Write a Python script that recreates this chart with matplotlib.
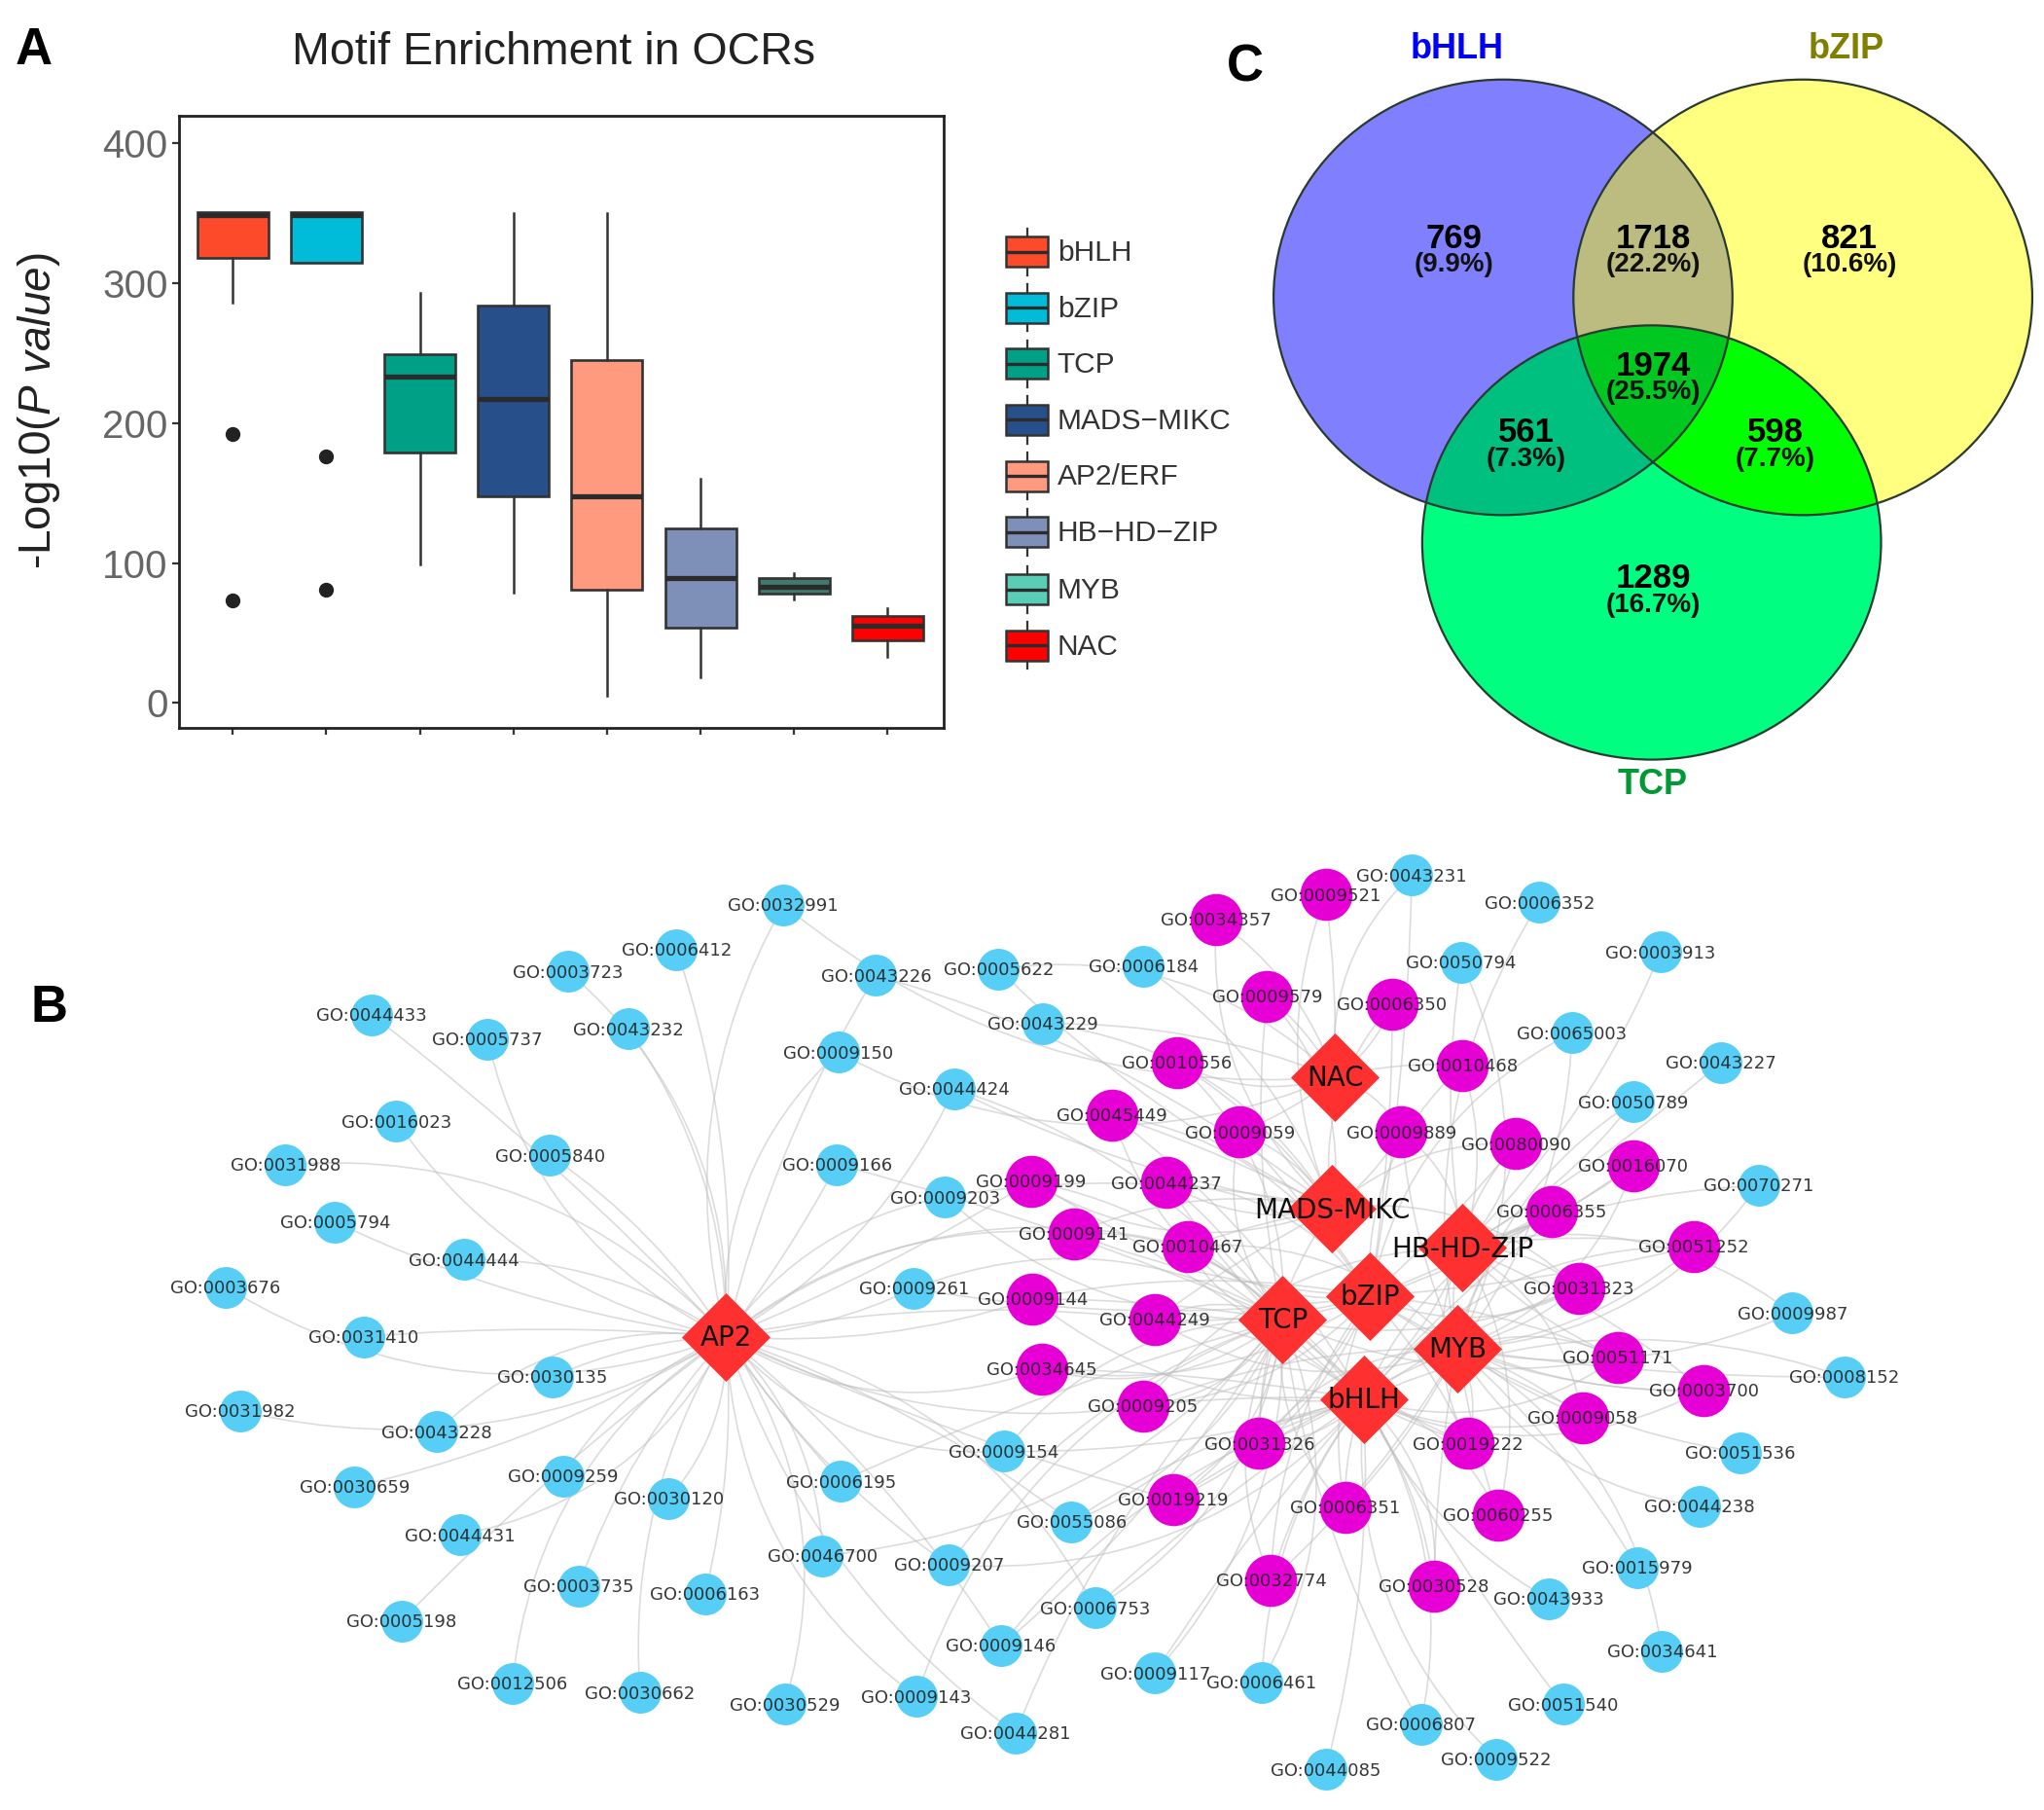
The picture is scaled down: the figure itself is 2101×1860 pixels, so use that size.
import numpy as np
import matplotlib
matplotlib.use("Agg")
import matplotlib.pyplot as plt
from matplotlib.patches import Rectangle, Polygon, Ellipse, PathPatch
from matplotlib.path import Path

plt.rcParams['font.family'] = ['Liberation Sans', 'DejaVu Sans']
plt.rcParams['mathtext.fontset'] = 'custom'
plt.rcParams['mathtext.it'] = 'Liberation Sans:italic'
plt.rcParams['mathtext.rm'] = 'Liberation Sans'

# ---------- Panel A data ----------
motifs = ['bHLH', 'bZIP', 'TCP', 'MADS\u2212MIKC', 'AP2/ERF', 'HB\u2212HD\u2212ZIP', 'MYB', 'NAC']
q1 = [318, 315, 179, 148, 81, 54, 78, 45]
med = [349, 349, 233, 217, 148, 89, 83, 55]
q3 = [351, 351, 249, 284, 245, 125, 89, 62]
whislo = [286, 315, 99, 79, 5, 18, 74, 33]
whishi = [351, 351, 293, 350, 350, 160, 93, 68]
fliers = [[192, 73], [176, 81], [], [], [], [], [], []]
key_colors = ['#FC4A2A', '#00BCD8', '#00A087', '#27508A', '#FF9A7E', '#7E8FB8', '#5ACDB6', '#FF0000']
box_colors = ['#FC4A2A', '#00BCD8', '#00A087', '#27508A', '#FF9A7E', '#7E8FB8', '#3F7A70', '#FF0000']

# ---------- Panel C data ----------
venn_sets = ['bHLH', 'bZIP', 'TCP']
venn_counts = ['769', '1718', '821', '1974', '561', '598', '1289']
venn_pcts = ['(9.9%)', '(22.2%)', '(10.6%)', '(25.5%)', '(7.3%)', '(7.7%)', '(16.7%)']

# ---------- Panel B data (node layout) ----------
blue_nodes = {
 '0032991':(601,694),'0006412':(519,728),'0003723':(436,745),'0043226':(672,748),'0005622':(766,743),
 '0006184':(877,741),'0043231':(1083,671),'0006352':(1181,692),'0003913':(1274,730),'0050794':(1121,738),
 '0065003':(1206,792),'0043227':(1320,815),'0050789':(1253,845),'0070271':(1349,909),'0009987':(1375,1007),
 '0008152':(1415,1056),'0051536':(1335,1114),'0044238':(1304,1155),'0015979':(1256,1202),'0043933':(1188,1226),
 '0034641':(1275,1266),'0051540':(1199,1307),'0006807':(1090,1322),'0009522':(1148,1349),'0044085':(1017,1357),
 '0006461':(968,1290),'0009117':(886,1283),'0044281':(779,1329),'0009143':(703,1301),'0009146':(768,1262),
 '0006753':(840,1233),'0055086':(822,1167),'0009154':(770,1113),'0009207':(728,1200),'0006195':(645,1136),
 '0046700':(631,1193),'0030529':(602,1307),'0030662':(491,1298),'0012506':(393,1291),'0006163':(541,1222),
 '0003735':(444,1216),'0030120':(513,1149),'0009259':(432,1132),'0044431':(353,1177),'0005198':(308,1243),
 '0030659':(272,1140),'0043228':(335,1098),'0030135':(424,1056),'0031982':(184,1082),'0031410':(279,1025),
 '0003676':(173,987),'0044444':(356,966),'0005794':(257,937),'0031988':(219,893),'0016023':(304,860),
 '0005840':(422,886),'0044433':(285,778),'0005737':(374,797),'0043232':(482,789),'0009150':(643,807),
 '0043229':(800,785),'0044424':(732,835),'0009166':(642,893),'0009203':(725,918),'0009261':(701,988)}
magenta_nodes = {
 '0034357':(933,705),'0009521':(1017,686),'0009579':(972,764),'0006350':(1068,770),'0010556':(903,815),
 '0010468':(1122,817),'0045449':(853,855),'0009059':(951,868),'0009889':(1075,868),'0080090':(1163,877),
 '0016070':(1253,894),'0009199':(791,906),'0044237':(895,907),'0006355':(1190,929),'0009141':(824,946),
 '0010467':(911,956),'0051252':(1299,956),'0031323':(1211,988),'0009144':(792,996),'0044249':(886,1012),
 '0051171':(1241,1041),'0034645':(799,1050),'0003700':(1307,1066),'0009205':(877,1078),'0009058':(1214,1087),
 '0031326':(966,1107),'0019222':(1126,1107),'0019219':(900,1150),'0006351':(1032,1156),'0060255':(1149,1162),
 '0032774':(975,1212),'0030528':(1100,1216)}
hubs = {'AP2':(557,1025),'NAC':(1024,826),'MADS-MIKC':(1022,927),'HB-HD-ZIP':(1122,957),
        'bZIP':(1051,994),'TCP':(984,1012),'MYB':(1118,1034),'bHLH':(1046,1073)}

ap2_targets = ['0032991','0006412','0003723','0043226','0043232','0005737','0044433','0016023','0005840',
 '0031988','0005794','0044444','0003676','0031410','0031982','0030135','0043228','0030659','0009259','0044431',
 '0005198','0030120','0003735','0012506','0006163','0030662','0030529','0006195','0046700','0009207','0009143',
 '0009146','0044281','0009150','0009166','0009203','0009261','0009154','0055086','0044424','0006753',
 '0009199','0009141','0009144','0034645','0044249','0009205','0010467','0019219']
right_blue_targets = {
 '0032991':['NAC'],'0043226':['MADS-MIKC'],'0005622':['NAC','MADS-MIKC'],'0006184':['MADS-MIKC'],
 '0043231':['NAC','bZIP'],'0006352':['MYB'],'0003913':['HB-HD-ZIP'],'0050794':['MYB','HB-HD-ZIP'],
 '0065003':['MYB','bZIP'],'0043227':['HB-HD-ZIP'],'0050789':['MYB','HB-HD-ZIP'],
 '0070271':['MYB','HB-HD-ZIP'],'0009987':['MYB','HB-HD-ZIP'],'0008152':['MYB','bHLH'],'0051536':['MYB'],
 '0044238':['MYB'],'0015979':['MYB'],'0043933':['bHLH'],'0034641':['MYB'],'0051540':['bHLH'],'0006807':['bHLH','TCP'],
 '0009522':['bHLH'],'0044085':['bHLH'],'0006461':['bHLH','TCP'],'0009117':['bHLH','TCP'],'0044281':['TCP'],
 '0009143':['TCP'],'0009146':['TCP','bHLH'],'0006753':['TCP','bHLH'],'0055086':['TCP','bHLH'],
 '0009154':['TCP','bHLH'],'0009207':['TCP','bHLH'],'0006195':['TCP'],'0046700':['TCP'],
 '0043229':['NAC','MADS-MIKC'],'0044424':['MADS-MIKC','TCP'],'0009150':['NAC'],'0009166':['TCP'],
 '0009203':['TCP','MADS-MIKC'],'0009261':['TCP','bZIP']}
magenta_targets = {
 '0034357':['NAC','MADS-MIKC'],'0009521':['NAC','MADS-MIKC'],'0009579':['NAC','MADS-MIKC','TCP'],
 '0006350':['NAC','MADS-MIKC','bZIP'],'0010556':['NAC','MADS-MIKC','TCP'],'0010468':['NAC','HB-HD-ZIP','bZIP'],
 '0045449':['MADS-MIKC','TCP','bHLH','bZIP'],'0009059':['NAC','MADS-MIKC','TCP','bZIP'],
 '0009889':['NAC','MADS-MIKC','HB-HD-ZIP','MYB'],'0080090':['HB-HD-ZIP','MYB','bZIP','MADS-MIKC'],
 '0016070':['HB-HD-ZIP','MYB','bHLH'],'0009199':['TCP','MADS-MIKC','bHLH'],'0044237':['MADS-MIKC','TCP','bZIP','bHLH'],
 '0006355':['HB-HD-ZIP','MYB','bZIP','bHLH','TCP'],'0009141':['TCP','bZIP','MADS-MIKC'],
 '0010467':['TCP','MADS-MIKC','bZIP','bHLH','MYB'],'0051252':['HB-HD-ZIP','MYB','bHLH','bZIP'],
 '0031323':['HB-HD-ZIP','MYB','bZIP','bHLH','TCP','MADS-MIKC'],'0009144':['TCP','bHLH','bZIP'],
 '0044249':['TCP','bZIP','bHLH','MYB','MADS-MIKC'],'0051171':['MYB','HB-HD-ZIP','bHLH','bZIP','TCP'],
 '0034645':['TCP','bHLH','bZIP'],'0003700':['MYB','bHLH','HB-HD-ZIP','bZIP'],
 '0009205':['TCP','bHLH','bZIP','MYB','HB-HD-ZIP'],'0009058':['MYB','bHLH','HB-HD-ZIP','bZIP'],
 '0031326':['bHLH','TCP','MYB','bZIP','MADS-MIKC','HB-HD-ZIP'],'0019222':['bHLH','MYB','TCP','HB-HD-ZIP','bZIP'],
 '0019219':['bHLH','TCP','MYB','bZIP'],'0006351':['bHLH','TCP','MYB','bZIP'],'0060255':['bHLH','MYB','HB-HD-ZIP'],
 '0032774':['bHLH','TCP','MYB','bZIP'],'0030528':['bHLH','MYB','TCP']}

# ---------- Figure ----------
W, H = 1568.0, 1388.0
fig = plt.figure(figsize=(21.01, 18.60), dpi=100)
bg = fig.add_axes([0, 0, 1, 1], zorder=2)
bg.set_xlim(0, W); bg.set_ylim(H, 0); bg.axis('off')

# ---------- Panel A ----------
ax = fig.add_axes([137/W, 1-558/H, (724-137)/W, (558-89)/H], zorder=1)
stats = [dict(med=m, q1=a, q3=b, whislo=l, whishi=h, fliers=f, label=n)
         for n, a, m, b, l, h, f in zip(motifs, q1, med, q3, whislo, whishi, fliers)]
bp = ax.bxp(stats, positions=np.arange(1, 9), widths=0.76, patch_artist=True, showcaps=False,
            boxprops=dict(edgecolor='#333333', linewidth=1.9),
            medianprops=dict(color='#2b2b2b', linewidth=3.8, solid_capstyle='butt'),
            whiskerprops=dict(color='#333333', linewidth=1.8),
            flierprops=dict(marker='o', markerfacecolor='#222222', markeredgecolor='#222222', markersize=10))
for patch, c in zip(bp['boxes'], box_colors):
    patch.set_facecolor(c)
ax.set_xlim(0.42, 8.6)
ax.set_ylim(-17.7, 419.6)
ax.set_xticks(np.arange(1, 9)); ax.set_xticklabels([''] * 8)
ax.set_yticks([0, 100, 200, 300, 400])
ax.tick_params(axis='y', labelsize=29, labelcolor='#666666', length=5, width=1.6, color='#333333', pad=3)
ax.tick_params(axis='x', length=5, width=1.6, color='#333333')
for s in ax.spines.values():
    s.set_linewidth(2.0); s.set_color('#222222')

bg.text(425, 40, 'Motif Enrichment in OCRs', ha='center', va='center', fontsize=33.5, color='#222222')
bg.text(30, 315, r'-Log10($\mathit{P\ value}$)', rotation=90, ha='center', va='center', fontsize=33, color='#222222')

# legend
leg_y = [193, 236, 279, 322, 365, 408, 452, 495]
for y, name, c in zip(leg_y, motifs, key_colors):
    bg.plot([788, 788], [y-18, y+18], color='#333333', lw=1.6, zorder=3)
    bg.add_patch(Rectangle((772, y-11.5), 32, 23, facecolor=c, edgecolor='#333333', lw=1.8, zorder=4))
    bg.plot([772, 804], [y, y], color='#2b2b2b', lw=2.4, zorder=5, solid_capstyle='butt')
    bg.text(811, y+1, name, ha='left', va='center', fontsize=21.5, color='#333333')

# panel letters
for t, x, y in [('A', 26, 39), ('B', 38, 773), ('C', 955, 52)]:
    bg.text(x, y, t, ha='center', va='center', fontsize=38, fontweight='bold', color='black')

# ---------- Panel C ----------
ellipses = {'bHLH': (1153, 228, 176, 167), 'bZIP': (1383, 228, 176, 167), 'TCP': (1267, 416, 176, 166.5)}
region_colors = {('bHLH',): '#8080FF', ('bZIP',): '#FFFF80', ('TCP',): '#00FF80',
                 ('bHLH', 'bZIP'): '#BDBC80', ('bHLH', 'TCP'): '#00C080', ('bZIP', 'TCP'): '#00FF00',
                 ('bHLH', 'bZIP', 'TCP'): '#00C820'}

def inside(p, e):
    return ((p[:, 0]-e[0])/e[2])**2 + ((p[:, 1]-e[1])/e[3])**2 <= 1.000001

def intersection(names):
    pts = []
    t = np.linspace(0, 2*np.pi, 1440, endpoint=False)
    for n in names:
        e = ellipses[n]
        p = np.c_[e[0]+e[2]*np.cos(t), e[1]+e[3]*np.sin(t)]
        for m in names:
            if m != n:
                p = p[inside(p, ellipses[m])]
        pts.append(p)
    pts = np.vstack(pts)
    c = pts.mean(axis=0)
    return pts[np.argsort(np.arctan2(pts[:, 1]-c[1], pts[:, 0]-c[0]))]

for key, col in region_colors.items():
    bg.add_patch(Polygon(intersection(key), closed=True, facecolor=col, edgecolor='none', zorder=3 + len(key)))
for n in venn_sets:
    e = ellipses[n]
    bg.add_patch(Ellipse((e[0], e[1]), 2*e[2], 2*e[3], facecolor='none', edgecolor='#2a3a30', lw=1.6, zorder=8))

venn_xy = [(1115, 183), (1268, 183), (1419, 183), (1268, 281), (1171, 332), (1362, 332), (1268, 444)]
for (x, y), c, p in zip(venn_xy, venn_counts, venn_pcts):
    bg.text(x, y, c, ha='center', va='center', fontsize=25, fontweight='bold', color='black', zorder=9)
    bg.text(x, y+20, p, ha='center', va='center', fontsize=20, fontweight='bold', color='#111111', zorder=9)
for n, x, y, c in zip(venn_sets, [1118, 1416, 1268], [38, 38, 602], ['#0000FF', '#808000', '#009933']):
    bg.text(x, y, n, ha='center', va='center', fontsize=26, fontweight='bold', color=c)

# ---------- Panel B ----------
def edge(p0, p1, i):
    p0, p1 = np.array(p0, float), np.array(p1, float)
    mid = (p0+p1)/2
    d = p1-p0
    n = np.array([-d[1], d[0]])
    rad = [-0.2, 0.1, 0.24, -0.08, 0.16, -0.24, 0.04][i % 7]
    ctrl = mid + rad*n
    bg.add_patch(PathPatch(Path([p0, ctrl, p1], [Path.MOVETO, Path.CURVE3, Path.CURVE3]),
                           facecolor='none', edgecolor='#c0c0c0', lw=1.2, alpha=0.55, zorder=10))

all_nodes = {**blue_nodes, **magenta_nodes}
k = 0
for g in ap2_targets:
    edge(hubs['AP2'], all_nodes[g], k); k += 1
for g, hs in right_blue_targets.items():
    for h in hs:
        edge(hubs[h], all_nodes[g], k); k += 1
for g, hs in magenta_targets.items():
    for h in hs:
        edge(hubs[h], all_nodes[g], k); k += 1

def scat(d, **kw):
    a = np.array(list(d.values()), float)
    bg.scatter(a[:, 0], a[:, 1], linewidths=0, **kw)

scat(blue_nodes, s=955, c='#56CEF5', zorder=11)
scat(magenta_nodes, s=1490, c='#E600D5', zorder=11)
scat(hubs, s=2150, c='#FF3030', marker='D', zorder=12)

for g, (x, y) in all_nodes.items():
    bg.text(x, y+1, 'GO:' + g, ha='center', va='center', fontsize=13, family='DejaVu Sans',
            color='#222222', alpha=0.9, zorder=13)
for g, (x, y) in hubs.items():
    bg.text(x, y+1, g, ha='center', va='center', fontsize=20, family='DejaVu Sans', color='#111111', zorder=13)

fig.savefig('out.png', dpi=100)
